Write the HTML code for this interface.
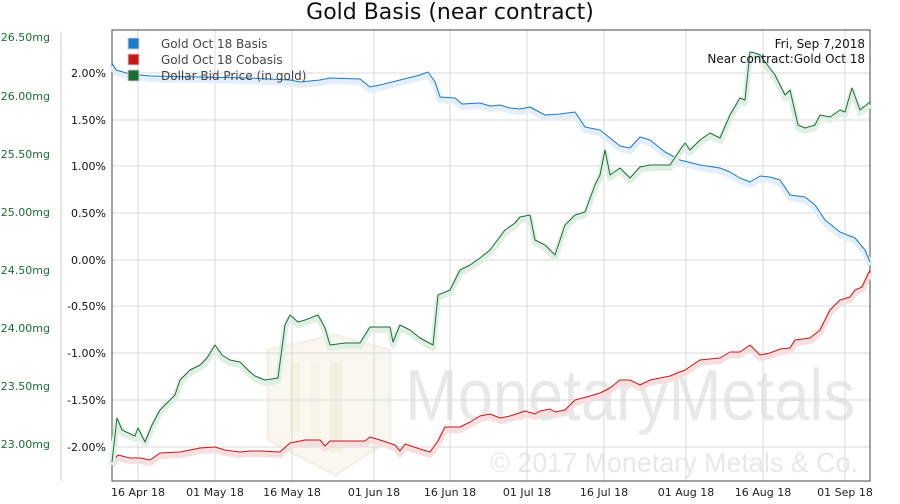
<!DOCTYPE html>
<html><head><meta charset="utf-8"><style>
body{margin:0;background:#fff;width:900px;height:500px;overflow:hidden;font-family:"DejaVu Sans","Liberation Sans",sans-serif;}
</style></head><body>
<svg width="900" height="500" xmlns="http://www.w3.org/2000/svg" font-family="DejaVu Sans, Liberation Sans, sans-serif">
<text x="450" y="19" text-anchor="middle" font-size="22" fill="#111">Gold Basis (near contract)</text>
<!-- watermark -->
<g opacity="0.4">
<path d="M268 350 L335 335 L390 350 L390 440 L335 475 L268 440 Z" fill="#f1ecdc" stroke="#e6e0c8" stroke-width="3"/>
<rect x="290" y="362" width="10" height="70" fill="#eadfb0"/><rect x="310" y="362" width="10" height="80" fill="#eee6c4"/><rect x="330" y="362" width="12" height="90" fill="#e6dcb0"/>
</g>
<text x="405" y="420" font-size="72" fill="#e8e8e8" font-family="Liberation Sans, sans-serif" textLength="450" lengthAdjust="spacingAndGlyphs">MonetaryMetals</text>
<text x="490" y="472" font-size="28" fill="#e8e8e8" font-family="Liberation Sans, sans-serif" textLength="368" lengthAdjust="spacingAndGlyphs">© 2017 Monetary Metals &amp; Co.</text>
<!-- grid -->
<g stroke="#d8d8d8" stroke-width="1">
<line x1="138" y1="30" x2="138" y2="481"/><line x1="215" y1="30" x2="215" y2="481"/><line x1="292" y1="30" x2="292" y2="481"/><line x1="374" y1="30" x2="374" y2="481"/><line x1="450" y1="30" x2="450" y2="481"/><line x1="527" y1="30" x2="527" y2="481"/><line x1="604" y1="30" x2="604" y2="481"/><line x1="686" y1="30" x2="686" y2="481"/><line x1="763" y1="30" x2="763" y2="481"/><line x1="845" y1="30" x2="845" y2="481"/>
<line x1="112" y1="73" x2="870" y2="73"/><line x1="112" y1="120" x2="870" y2="120"/><line x1="112" y1="166" x2="870" y2="166"/><line x1="112" y1="213" x2="870" y2="213"/><line x1="112" y1="260" x2="870" y2="260"/><line x1="112" y1="306" x2="870" y2="306"/><line x1="112" y1="353" x2="870" y2="353"/><line x1="112" y1="400" x2="870" y2="400"/><line x1="112" y1="447" x2="870" y2="447"/>
</g>
<rect x="112" y="30" width="758" height="451" fill="none" stroke="#444" stroke-width="1"/>
<line x1="61" y1="32" x2="61" y2="481" stroke="#ccc"/>
<g font-size="11" fill="#111" text-anchor="end">
<text x="106" y="77">2.00%</text><text x="106" y="124">1.50%</text><text x="106" y="170">1.00%</text><text x="106" y="217">0.50%</text><text x="106" y="264">0.00%</text><text x="106" y="310">-0.50%</text><text x="106" y="357">-1.00%</text><text x="106" y="404">-1.50%</text><text x="106" y="451">-2.00%</text>
</g>
<g font-size="11" fill="#1a6e35" text-anchor="end">
<text x="50" y="41">26.50mg</text><text x="50" y="100">26.00mg</text><text x="50" y="158">25.50mg</text><text x="50" y="216">25.00mg</text><text x="50" y="274">24.50mg</text><text x="50" y="332">24.00mg</text><text x="50" y="390">23.50mg</text><text x="50" y="448">23.00mg</text>
</g>
<g font-size="11" fill="#222" text-anchor="middle">
<text x="138" y="496">16 Apr 18</text><text x="215" y="496">01 May 18</text><text x="292" y="496">16 May 18</text><text x="374" y="496">01 Jun 18</text><text x="450" y="496">16 Jun 18</text><text x="527" y="496">01 Jul 18</text><text x="604" y="496">16 Jul 18</text><text x="686" y="496">01 Aug 18</text><text x="763" y="496">16 Aug 18</text><text x="845" y="496">01 Sep 18</text>
</g>
<g fill="none" stroke-linejoin="round">
<polyline points="112,63 116,70 130,74 150,76 200,77 250,78 290,80 300,82 320,80 330,78 360,79 370,87 380,85 400,80 420,75 428,72 435,82 440,97 455,98 462,104 480,103 490,106 500,105 510,108 520,109 530,107 545,115 560,114 575,112 585,127 600,130 610,138 620,146 630,148 640,137 650,140 665,152 680,160 700,165 720,168 730,172 740,178 750,182 760,176 770,177 780,180 790,195 805,197 815,205 825,220 840,232 855,238 865,250 870,262" stroke="#e2eef9" stroke-width="6" transform="translate(0,3)"/>
<polyline points="112,63 116,70 130,74 150,76 200,77 250,78 290,80 300,82 320,80 330,78 360,79 370,87 380,85 400,80 420,75 428,72 435,82 440,97 455,98 462,104 480,103 490,106 500,105 510,108 520,109 530,107 545,115 560,114 575,112 585,127 600,130 610,138 620,146 630,148 640,137 650,140 665,152 680,160 700,165 720,168 730,172 740,178 750,182 760,176 770,177 780,180 790,195 805,197 815,205 825,220 840,232 855,238 865,250 870,262" stroke="#1a7acb" stroke-width="1"/>
<polyline points="112,462 118,455 130,458 140,458 150,460 160,453 180,452 200,448 215,447 225,450 240,452 250,451 260,451 280,452 290,443 305,440 320,440 325,446 330,441 345,441 365,441 370,437 380,440 395,445 400,451 405,444 420,449 430,452 438,441 445,427 460,427 470,422 480,416 490,414 500,418 510,416 525,411 535,414 540,411 550,409 555,412 565,410 575,400 590,396 600,393 610,388 620,380 630,380 640,385 650,380 670,376 685,370 700,360 720,358 730,352 740,352 750,345 760,355 770,353 780,349 790,348 795,340 810,338 820,330 830,310 840,300 850,297 855,290 862,287 870,270" stroke="#f8dede" stroke-width="6" transform="translate(0,3)"/>
<polyline points="112,462 118,455 130,458 140,458 150,460 160,453 180,452 200,448 215,447 225,450 240,452 250,451 260,451 280,452 290,443 305,440 320,440 325,446 330,441 345,441 365,441 370,437 380,440 395,445 400,451 405,444 420,449 430,452 438,441 445,427 460,427 470,422 480,416 490,414 500,418 510,416 525,411 535,414 540,411 550,409 555,412 565,410 575,400 590,396 600,393 610,388 620,380 630,380 640,385 650,380 670,376 685,370 700,360 720,358 730,352 740,352 750,345 760,355 770,353 780,349 790,348 795,340 810,338 820,330 830,310 840,300 850,297 855,290 862,287 870,270" stroke="#c81818" stroke-width="1"/>
<polyline points="112,462 117,418 122,430 135,436 138,428 145,442 152,425 160,410 175,395 180,380 185,375 190,370 200,365 207,358 215,345 222,355 230,360 240,362 250,372 255,376 265,380 278,378 285,325 290,315 298,322 305,320 318,315 325,328 330,345 345,343 360,343 370,327 380,327 390,327 393,342 400,325 410,330 420,338 433,345 438,295 450,290 460,270 470,265 480,258 490,250 505,230 515,223 520,217 530,215 535,240 545,245 555,255 565,225 575,215 585,212 595,185 600,175 605,150 610,175 620,168 630,178 640,167 650,165 670,165 680,150 685,143 690,150 700,140 710,133 720,138 730,115 740,98 745,100 750,52 755,53 760,55 775,75 785,95 790,90 798,125 805,128 815,125 820,115 830,117 840,110 845,112 852,88 860,110 870,102" stroke="#e0efe4" stroke-width="6" transform="translate(0,3)"/>
<polyline points="112,462 117,418 122,430 135,436 138,428 145,442 152,425 160,410 175,395 180,380 185,375 190,370 200,365 207,358 215,345 222,355 230,360 240,362 250,372 255,376 265,380 278,378 285,325 290,315 298,322 305,320 318,315 325,328 330,345 345,343 360,343 370,327 380,327 390,327 393,342 400,325 410,330 420,338 433,345 438,295 450,290 460,270 470,265 480,258 490,250 505,230 515,223 520,217 530,215 535,240 545,245 555,255 565,225 575,215 585,212 595,185 600,175 605,150 610,175 620,168 630,178 640,167 650,165 670,165 680,150 685,143 690,150 700,140 710,133 720,138 730,115 740,98 745,100 750,52 755,53 760,55 775,75 785,95 790,90 798,125 805,128 815,125 820,115 830,117 840,110 845,112 852,88 860,110 870,102" stroke="#1a6e35" stroke-width="1"/>
</g>
<!-- legend -->
<g font-size="12" fill="#444">
<rect x="128" y="38" width="11" height="11" fill="#1a7acb" stroke="#ccc"/><text x="161" y="48">Gold Oct 18 Basis</text>
<rect x="128" y="54" width="11" height="11" fill="#c81818" stroke="#ccc"/><text x="161" y="64">Gold Oct 18 Cobasis</text>
<rect x="128" y="70" width="11" height="11" fill="#1a6e35" stroke="#ccc"/><text x="161" y="80">Dollar Bid Price (in gold)</text>
</g>
<g font-size="12" fill="#111" text-anchor="end">
<text x="865" y="48">Fri, Sep 7,2018</text><text x="865" y="63">Near contract:Gold Oct 18</text>
</g>
</svg>
</body></html>
